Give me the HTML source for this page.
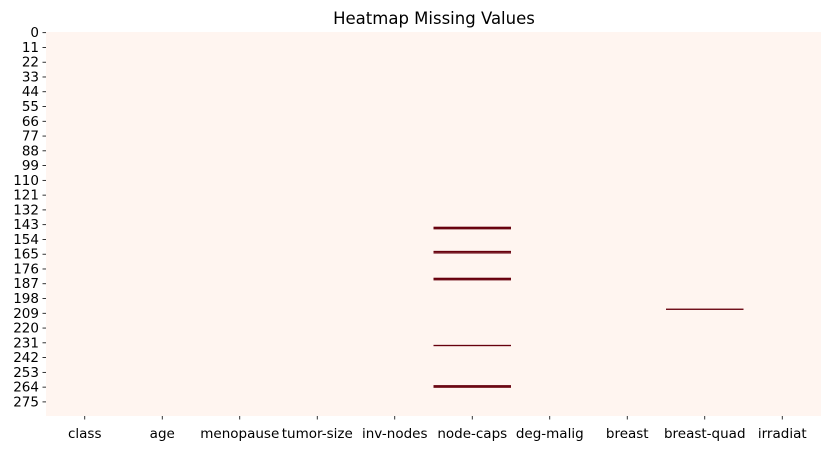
<!DOCTYPE html>
<html><head><meta charset="utf-8"><style>
body{margin:0;background:#fff;}
svg text{font-family:"DejaVu Sans","Liberation Sans",sans-serif;font-size:13.5px;fill:#000;}
</style></head><body>
<svg id="chart" width="831" height="451" xmlns="http://www.w3.org/2000/svg">
<text x="434" y="24" text-anchor="middle" style="font-size:16.5px">Heatmap Missing Values</text>
<rect x="46" y="32" width="775" height="384" fill="#fff5f0"/>
<g id="cells"></g><g id="xt"></g><g id="yt"></g>
</svg>
<script>
const columns = ["class","age","menopause","tumor-size","inv-nodes","node-caps","deg-malig","breast","breast-quad","irradiat"];
const nRows = 286;
const missingNodeCaps = [145,146,163,164,183,184,233,263,264];
const missingBreastQuad = [206];
const yTickStep = 11;
const L=46,T=32,W=775,H=384;
const cw=W/columns.length, rh=H/nRows;
const xs=c=>L+c*cw, ys=r=>T+r*rh;
const NS="http://www.w3.org/2000/svg";
function mk(t,a){const e=document.createElementNS(NS,t);for(const k in a)e.setAttribute(k,a[k]);return e;}
const cells=document.getElementById('cells');
function addMissing(col,rows){
  const ci=columns.indexOf(col);
  rows.forEach(r=>{
    const e=mk('rect',{x:xs(ci),y:ys(r),width:cw,height:rh,fill:'#67000d'});
    
    
    cells.appendChild(e);
  });
}
addMissing('node-caps',missingNodeCaps);
addMissing('breast-quad',missingBreastQuad);
const xt=document.getElementById('xt');
columns.forEach((c,i)=>{
  const x=xs(i)+cw/2;
  const l=mk('line',{x1:x,x2:x,y1:T+H,y2:T+H+3.5,stroke:'#000','stroke-width':0.8});
  
  
  xt.appendChild(l);
  const t=mk('text',{x:x,y:T+H+22,'text-anchor':'middle'});t.textContent=c;
  
  
  xt.appendChild(t);
});
const yt=document.getElementById('yt');
for(let r=0;r<nRows;r+=yTickStep){
  const y=ys(r)+rh/2;
  const l=mk('line',{x1:L-3.5,x2:L,y1:y,y2:y,stroke:'#000','stroke-width':0.8});
  
  
  yt.appendChild(l);
  const t=mk('text',{x:L-7,y:y+4.5,'text-anchor':'end'});t.textContent=r;
  
  
  yt.appendChild(t);
}
</script>
</body></html>
